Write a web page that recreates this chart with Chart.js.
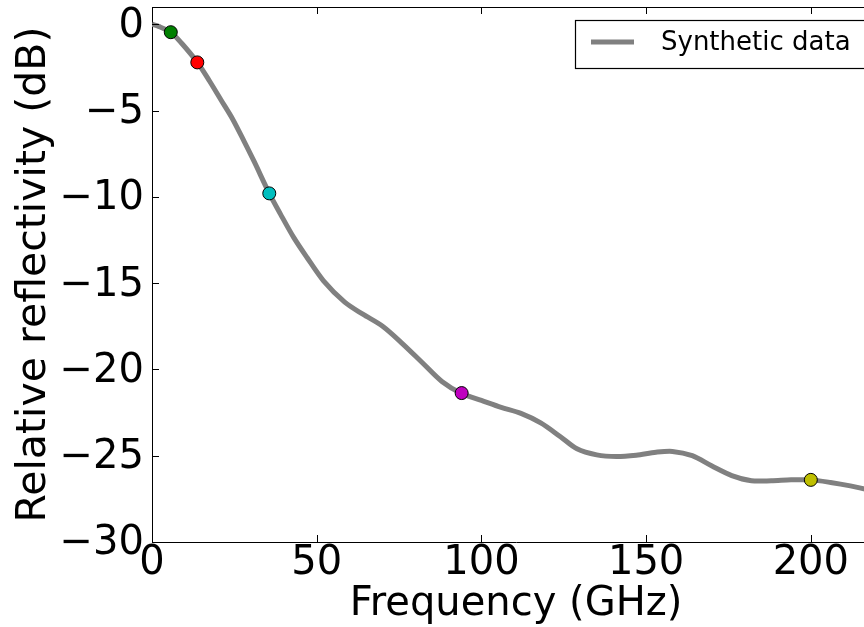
<!DOCTYPE html>
<html>
<head>
<meta charset="utf-8">
<script src="https://cdn.jsdelivr.net/npm/chart.js@4/dist/chart.umd.min.js"></script>
<style>
  html, body { margin: 0; padding: 0; background: #fff; overflow: hidden; }
  #wrap { width: 880px; height: 627px; }
</style>
</head>
<body>
<div id="wrap"><canvas id="chart" width="880" height="627"></canvas></div>
<script>
// synthetic curve (GHz, dB)
const freq = [0, 2, 5.7, 9, 13.75, 17.5, 21, 24.5, 28, 31, 35.6, 39, 43, 47, 52, 58.5, 64, 70, 76, 82, 88, 94,
  100, 106, 112, 118, 124, 129, 135, 141, 147, 153, 158, 164, 170, 176, 182, 188, 194, 200, 206, 212, 218, 222];
const refl = [0, -0.12, -0.46, -1.1, -2.2, -3.3, -4.4, -5.5, -6.8, -7.95, -9.8, -11.0, -12.35, -13.5, -14.85, -16.1,
  -16.8, -17.5, -18.5, -19.6, -20.7, -21.4, -21.8, -22.2, -22.55, -23.1, -23.9, -24.6, -24.95, -25.05, -24.97, -24.8,
  -24.75, -25.0, -25.6, -26.15, -26.45, -26.45, -26.4, -26.4, -26.55, -26.75, -27.0, -27.2];

// highlighted frequencies
const markFreq = [5.7, 13.75, 35.6, 94, 200];
const markRefl = [-0.46, -2.21, -9.8, -21.37, -26.4];
const markColors = ['#008000', '#ff0000', '#00bfbf', '#bf00bf', '#bfbf00'];

const xTicks = [0, 50, 100, 150, 200];
const yTicks = [0, -5, -10, -15, -20, -25, -30];

const FONT = 'DejaVu Sans';
const TICK = 7;

const extras = {
  id: 'extras',
  afterDraw(chart) {
    const { ctx, chartArea: a, scales: { x, y } } = chart;
    ctx.save();
    ctx.strokeStyle = '#000';
    ctx.lineWidth = 1;
    ctx.beginPath();
    // top spine
    ctx.moveTo(a.left, a.top + 0.5);
    ctx.lineTo(a.right, a.top + 0.5);
    // inward ticks
    x.ticks.forEach(t => {
      const px = Math.round(x.getPixelForValue(t.value)) + 0.5;
      ctx.moveTo(px, a.bottom); ctx.lineTo(px, a.bottom - TICK);
      ctx.moveTo(px, a.top); ctx.lineTo(px, a.top + TICK);
    });
    y.ticks.forEach(t => {
      const py = Math.round(y.getPixelForValue(t.value)) + 0.5;
      ctx.moveTo(a.left, py); ctx.lineTo(a.left + TICK, py);
    });
    ctx.stroke();

    // legend box
    const lx = a.right - 305, ly = a.top + 13, lw = 297, lh = 48;
    ctx.fillStyle = '#fff';
    ctx.fillRect(lx, ly, lw, lh);
    ctx.lineWidth = 1.2;
    ctx.strokeRect(lx + 0.5, ly + 0.5, lw, lh);
    ctx.strokeStyle = '#808080';
    ctx.lineWidth = 5;
    ctx.beginPath();
    ctx.moveTo(lx + 16, ly + 22);
    ctx.lineTo(lx + 59, ly + 22);
    ctx.stroke();
    ctx.fillStyle = '#000';
    ctx.font = '26px "' + FONT + '"';
    ctx.textBaseline = 'middle';
    ctx.textAlign = 'left';
    ctx.fillText('Synthetic data', lx + 86, ly + 23);
    ctx.restore();
  }
};

new Chart(document.getElementById('chart'), {
  type: 'line',
  data: {
    datasets: [
      {
        label: 'Synthetic data',
        data: freq.map((f, i) => ({ x: f, y: refl[i] })),
        borderColor: '#808080',
        borderWidth: 5,
        pointRadius: 0,
        tension: 0.3,
        fill: false,
        order: 2
      },
      {
        label: 'bands',
        data: markFreq.map((f, i) => ({ x: f, y: markRefl[i] })),
        showLine: false,
        pointRadius: 6.5,
        pointBackgroundColor: markColors,
        pointBorderColor: '#000',
        pointBorderWidth: 1,
        clip: false,
        order: 1
      }
    ]
  },
  options: {
    responsive: false,
    animation: false,
    devicePixelRatio: 1,
    layout: { autoPadding: false, padding: { top: 7, right: 0, left: 0, bottom: 0 } },
    plugins: { legend: { display: false }, tooltip: { enabled: false } },
    scales: {
      x: {
        type: 'linear',
        min: 0,
        max: 221,
        grid: { display: false, drawTicks: false },
        border: { display: true, color: '#000', width: 1 },
        afterBuildTicks: s => { s.ticks = xTicks.map(v => ({ value: v })); },
        afterFit: s => { s.height = 85; s.paddingLeft = 0; s.paddingRight = 0; },
        ticks: {
          color: '#000',
          padding: 0,
          maxRotation: 0,
          font: { family: FONT, size: 40, lineHeight: 1.1 },
          callback: v => String(v)
        },
        title: {
          display: true,
          text: 'Frequency (GHz)',
          color: '#000',
          font: { family: FONT, size: 40, lineHeight: 1.0 },
          padding: { top: 0, bottom: 2 }
        }
      },
      y: {
        min: -30,
        max: 1,
        grid: { display: false, drawTicks: false },
        border: { display: true, color: '#000', width: 1 },
        afterBuildTicks: s => { s.ticks = yTicks.map(v => ({ value: v })); },
        afterFit: s => { s.width = 152; s.paddingTop = 0; s.paddingBottom = 0; },
        ticks: {
          color: '#000',
          padding: 8,
          labelOffset: 2,
          font: { family: FONT, size: 40 },
          callback: v => String(v).replace('-', '\u2212')
        },
        title: {
          display: true,
          text: 'Relative reflectivity (dB)',
          color: '#000',
          font: { family: FONT, size: 41 },
          padding: { top: 10, bottom: 0 }
        }
      }
    }
  },
  plugins: [extras]
});
</script>
</body>
</html>
